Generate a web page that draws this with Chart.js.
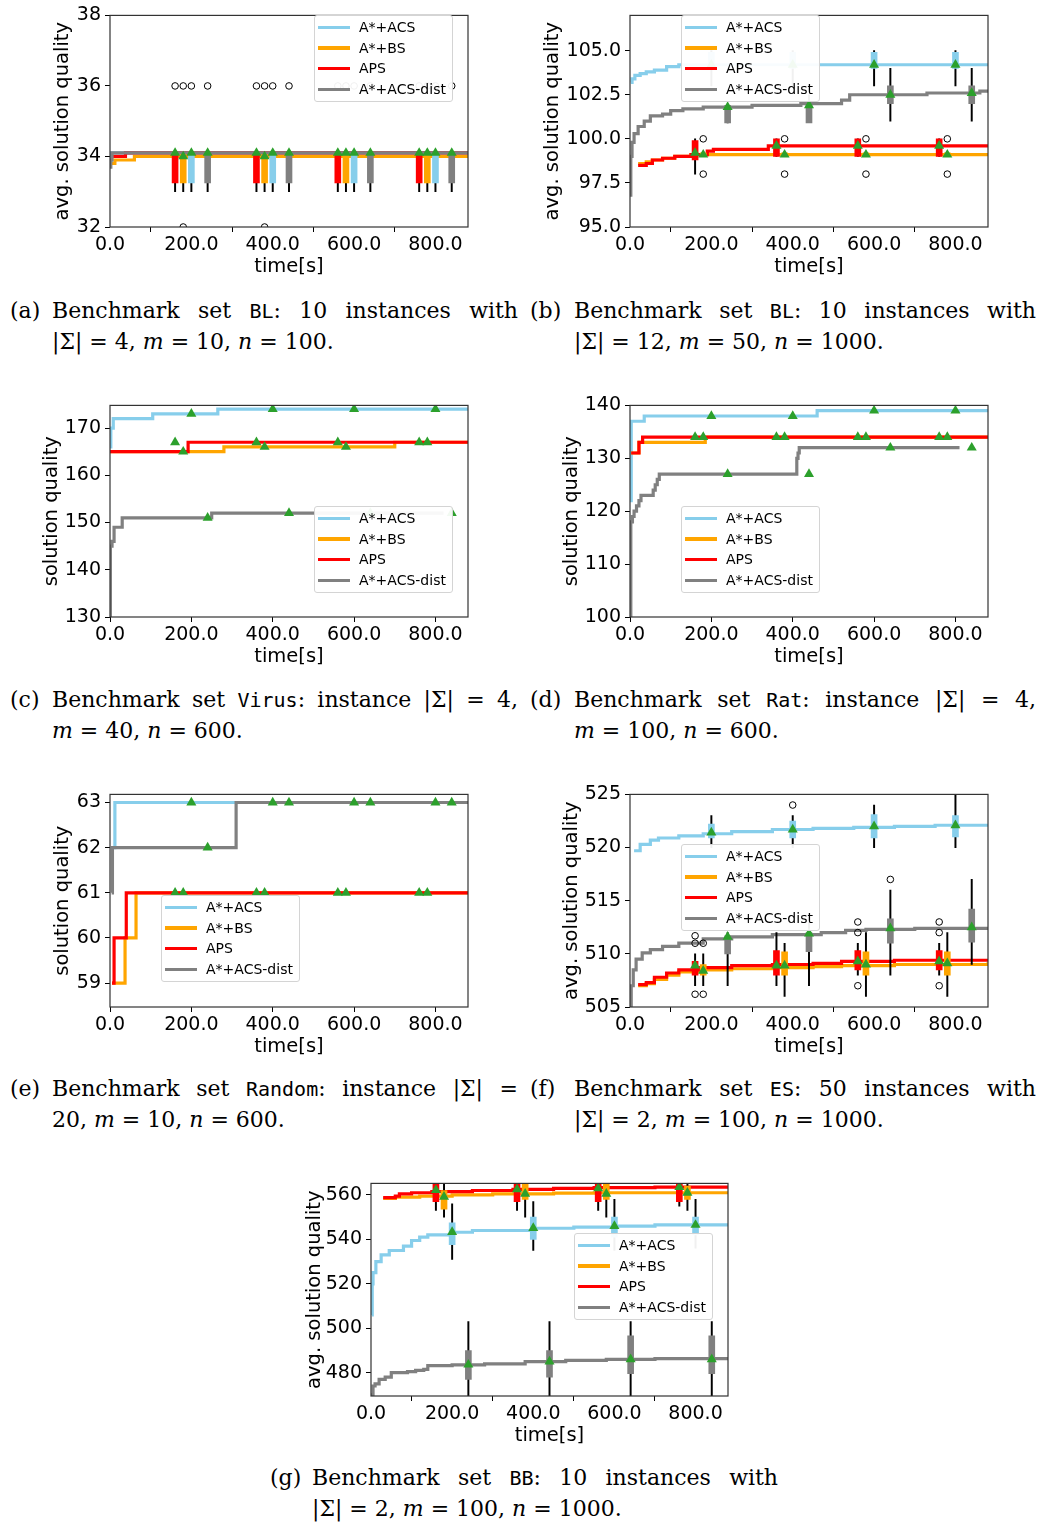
<!DOCTYPE html>
<html>
<head>
<meta charset="utf-8">
<script src="https://cdn.jsdelivr.net/npm/chart.js@4.4.1/dist/chart.umd.min.js"></script>
<style>
body { margin: 0; width: 1043px; height: 1523px; position: relative; background: #fff; overflow: hidden; }
canvas { position: absolute; }
.legend { position: absolute; width: 139px; height: 87px; box-sizing: border-box; background: rgba(255,255,255,0.94);
  border: 1px solid #d4d4d4; border-radius: 3px; font: 14px 'DejaVu Sans'; color: #000; }
.legend .h { position: absolute; left: 3px; width: 32px; height: 3.5px; }
.legend .t { position: absolute; left: 44px; line-height: 16px; }
.cap { position: absolute; font: 22px 'DejaVu Serif'; line-height: 31px; color: #000; }
.cap .l1 { text-align: justify; text-align-last: justify; height: 31px; }
.cap tt { font: 20px 'DejaVu Sans Mono'; }
.lab { position: absolute; font: 22px 'DejaVu Serif'; line-height: 31px; }
</style>
</head>
<body>
<script>
// ---- shared ----
const legendLabels = ['A*+ACS', 'A*+BS', 'APS', 'A*+ACS-dist'];
const xTicks = [0, 200, 400, 600, 800];
const posACS = [200, 400, 600, 800];
const posBS = [180, 380, 580, 780];
const posAPS = [160, 360, 560, 760];
const posDist = [240, 440, 640, 840];

// ---- (a) BL 10 instances ----
const aYTicks = [32, 34, 36, 38];
const aAcsT = [0, 3, 880], aAcsY = [33.8, 34.1, 34.1];
const aBsT = [0, 12, 60, 880], aBsY = [33.8, 33.9, 34.0, 34.0];
const aApsT = [3, 38, 880], aApsY = [34.0, 34.1, 34.1];
const aDistT = [0, 2, 5, 880], aDistY = [33.7, 33.9, 34.1, 34.1];
const aQ1 = [33.25, 33.25, 33.25, 33.25], aQ3 = [34.05, 34.05, 34.05, 34.05];
const aLo = [33.0, 33.0, 33.0, 33.0];
const aAcsMean = [34.1, 34.1, 34.1, 34.1], aBsMean = [34.0, 34.0, 34.1, 34.1];
const aApsMean = [34.1, 34.1, 34.1, 34.1], aDistMean = [34.1, 34.1, 34.1, 34.1];
const aOutX = [160, 180, 200, 240, 360, 380, 400, 440, 560, 580, 600, 640, 760, 780, 800, 840, 180, 380];
const aOutY = [36, 36, 36, 36, 36, 36, 36, 36, 36, 36, 36, 36, 36, 36, 36, 36, 32, 32];

// ---- (b) BL 10 instances ----
const bYTicks = [95, 97.5, 100, 102.5, 105];
const bAcsT = [2, 5, 12, 25, 40, 60, 90, 120, 880];
const bAcsY = [103.2, 103.4, 103.6, 103.7, 103.8, 103.9, 104.1, 104.2, 104.2];
const bBsT = [20, 40, 55, 80, 110, 150, 880];
const bBsY = [98.6, 98.7, 98.8, 98.9, 99.0, 99.1, 99.1];
const bApsT = [20, 40, 55, 80, 110, 150, 190, 205, 340, 880];
const bApsY = [98.5, 98.6, 98.8, 98.9, 99.0, 99.1, 99.3, 99.4, 99.6, 99.6];
const bDistT = [0, 2, 5, 10, 20, 35, 50, 80, 100, 130, 180, 300, 420, 520, 540, 730, 860, 880];
const bDistY = [96.8, 99.0, 99.8, 100.3, 100.7, 101.0, 101.3, 101.4, 101.6, 101.7, 101.8, 101.9, 102.0, 102.2, 102.5, 102.6, 102.7, 102.7];
const bApsQ1 = [98.8, 99.0, 99.0, 99.0], bApsQ3 = [99.9, 100.0, 100.0, 100.0];
const bApsLo = [98.0, 99.0, 99.0, 99.0], bApsHi = [100.0, 100.0, 100.0, 100.0];
const bBsQ1 = [99.0, 99.0, 99.0, 99.0], bBsQ3 = [99.2, 99.2, 99.2, 99.2];
const bAcsQ1 = [104.0, 104.0, 104.0, 104.0], bAcsQ3 = [104.9, 104.9, 104.9, 104.9];
const bAcsLo = [103.0, 103.0, 103.0, 103.0], bAcsHi = [105.0, 105.0, 105.0, 105.0];
const bDistQ1 = [100.9, 100.9, 102.0, 102.0], bDistQ3 = [101.9, 101.9, 103.0, 103.0];
const bDistLo = [100.9, 101.0, 101.0, 101.0], bDistHi = [101.9, 102.5, 104.0, 104.0];
const bAcsMean = [104.2, 104.2, 104.2, 104.2], bBsMean = [99.1, 99.1, 99.1, 99.1];
const bApsMean = [99.2, 99.6, 99.6, 99.6], bDistMean = [101.8, 101.9, 102.5, 102.6];
const bOutX = [180, 180, 380, 380, 580, 580, 780, 780];
const bOutY = [100, 98, 100, 98, 100, 98, 100, 98];

// ---- (c) Virus ----
const cYTicks = [130, 140, 150, 160, 170];
const cAcsT = [0, 2, 8, 105, 265, 880], cAcsY = [166, 170, 172, 173, 174, 174];
const cBsT = [0, 280, 700, 880], cBsY = [165, 166, 167, 167];
const cApsT = [0, 192, 880], cApsY = [165, 167, 167];
const cDistT = [0, 1, 5, 10, 30, 250, 820], cDistY = [130, 145, 146, 149, 151, 152, 152];
const cAcsMean = [173, 174, 174, 174], cBsMean = [165, 166, 166, 167];
const cApsMean = [167, 167, 167, 167], cDistMean = [151, 152, 152, 152];

// ---- (d) Rat ----
const dYTicks = [100, 110, 120, 130, 140];
const dAcsT = [0, 3, 35, 460, 880], dAcsY = [122, 137, 138, 139, 139];
const dBsT = [3, 22, 185, 880], dBsY = [131, 133, 134, 134];
const dApsT = [3, 22, 31, 880], dApsY = [131, 133, 134, 134];
const dDistT = [0, 2, 6, 10, 16, 22, 27, 57, 62, 67, 72, 410, 413, 416, 420, 810];
const dDistY = [100, 118, 119, 120, 121, 122, 123, 124, 125, 126, 127, 130, 131, 132, 132, 132];
const dAcsMean = [138, 138, 139, 139], dBsMean = [134, 134, 134, 134];
const dApsMean = [134, 134, 134, 134], dDistMean = [127, 127, 132, 132];

// ---- (e) Random ----
const eYTicks = [59, 60, 61, 62, 63];
const eAcsT = [5, 12, 880], eAcsY = [62, 63, 63];
const eBsT = [5, 37, 64, 880], eBsY = [59, 60, 61, 61];
const eApsT = [5, 10, 40, 880], eApsY = [59, 60, 61, 61];
const eDistT = [4, 6, 310, 880], eDistY = [61, 62, 63, 63];
const eAcsMean = [63, 63, 63, 63], eBsMean = [61, 61, 61, 61];
const eApsMean = [61, 61, 61, 61], eDistMean = [62, 63, 63, 63];

// ---- (f) ES 50 instances ----
const fYTicks = [505, 510, 515, 520, 525];
const fAcsT = [10, 25, 50, 70, 120, 180, 250, 350, 450, 550, 650, 750, 880];
const fAcsY = [519.7, 520.3, 520.7, 520.9, 521.1, 521.3, 521.5, 521.7, 521.8, 521.9, 522.0, 522.1, 522.2];
const fBsT = [20, 40, 60, 90, 120, 170, 250, 350, 450, 520, 650, 880];
const fBsY = [507.0, 507.2, 507.6, 508.0, 508.3, 508.5, 508.6, 508.7, 508.8, 508.9, 509.0, 509.2];
const fApsT = [20, 40, 60, 90, 120, 170, 250, 350, 450, 520, 650, 880];
const fApsY = [507.1, 507.3, 507.8, 508.2, 508.5, 508.7, 508.9, 509.0, 509.1, 509.3, 509.4, 509.5];
const fDistT = [0, 3, 8, 15, 30, 50, 80, 120, 180, 250, 350, 470, 530, 580, 700, 880];
const fDistY = [505, 507, 508.5, 509.5, 510.1, 510.4, 510.7, 511.0, 511.4, 511.6, 511.8, 512.0, 512.2, 512.3, 512.4, 512.5];
const fApsQ1 = [508.0, 508.0, 508.5, 508.5], fApsQ3 = [509.3, 510.3, 510.3, 510.3];
const fApsLo = [507, 507, 508, 508], fApsHi = [510, 512, 511, 511];
const fBsQ1 = [508.0, 508.0, 508.0, 508.0], fBsQ3 = [509.0, 510.2, 510.2, 510.2];
const fBsLo = [507, 506, 506, 506], fBsHi = [510, 511, 512, 512];
const fAcsQ1 = [520.9, 520.9, 520.9, 521.0], fAcsQ3 = [522.2, 522.5, 523.1, 523.0];
const fAcsLo = [520, 520, 520, 520], fAcsHi = [523, 523, 524, 525];
const fDistQ1 = [510.0, 510.2, 511.0, 511.1], fDistQ3 = [511.7, 512.0, 513.3, 514.2];
const fDistLo = [507, 507, 508, 509], fDistHi = [512, 513, 516, 517];
const fAcsMean = [521.4, 521.7, 522.0, 522.1], fBsMean = [508.4, 508.9, 509.0, 509.1];
const fApsMean = [508.9, 508.9, 509.3, 509.3], fDistMean = [511.6, 511.9, 512.4, 512.5];
const fOutX = [160, 160, 180, 160, 180, 400, 560, 560, 560, 640, 760, 760, 760];
const fOutY = [511.7, 511.0, 511.0, 506.2, 506.2, 524.0, 513.0, 512.0, 507.0, 517.0, 513.0, 512.0, 507.0];

// ---- (g) BB 10 instances ----
const gYTicks = [480, 500, 520, 540, 560];
const gAcsT = [2, 3, 5, 12, 25, 45, 80, 100, 120, 140, 200, 250, 400, 500, 600, 700, 880];
const gAcsY = [506, 520, 525, 530, 533, 535, 537, 539.5, 541, 542, 543.2, 544, 545, 545.5, 546, 546.5, 547];
const gBsT = [30, 60, 120, 200, 300, 450, 550, 880];
const gBsY = [558.5, 559, 559.5, 560, 560.5, 560.8, 561, 561.3];
const gApsT = [30, 60, 70, 100, 150, 250, 350, 450, 550, 700, 880];
const gApsY = [558.8, 559.5, 560.5, 561, 561.5, 562, 562.5, 563, 563.3, 563.5, 563.8];
const gDistT = [0, 5, 10, 20, 35, 50, 90, 110, 130, 140, 200, 280, 380, 480, 580, 700, 880];
const gDistY = [470, 474, 475, 477, 478, 480, 480.5, 481, 481.5, 483.2, 483.5, 484, 485, 485.5, 486, 486.3, 486.5];
const gApsQ1 = [557, 557, 557, 557], gApsQ3 = [566, 566, 566, 566];
const gApsLo = [553, 553, 553, 555], gApsHi = [566, 566, 566, 566];
const gBsQ1 = [553.6, 558, 558, 558], gBsQ3 = [562, 566, 566, 564];
const gBsLo = [550, 550, 550, 553], gBsHi = [566, 566, 566, 566];
const gAcsQ1 = [537.6, 540, 541, 542], gAcsQ3 = [547.4, 550, 550, 550];
const gAcsLo = [531, 535, 535, 536], gAcsHi = [556, 557, 558, 558];
const gDistQ1 = [477, 478, 479.6, 479.6], gDistQ3 = [490, 490, 496.6, 496.6];
const gDistLo = [469, 469, 469, 469], gDistHi = [503, 503, 503, 503];
const gAcsMean = [543.3, 545.1, 546, 546.5], gBsMean = [559.2, 560.5, 560.5, 561];
const gApsMean = [562.2, 562.5, 563, 563.5], gDistMean = [483.6, 485, 486, 486];

const colors = ['#87ceeb', '#ffa500', '#ff0000', '#808080'];
const positions = [posACS, posBS, posAPS, posDist];
const TICK_SIZE = 19, TITLE_SIZE = 19.5;

// frame around the axes, like matplotlib spines
const framePlugin = {
  id: 'frame',
  afterDatasetsDraw(chart) {
    const a = chart.chartArea, ctx = chart.ctx;
    ctx.save();
    ctx.strokeStyle = '#333';
    ctx.lineWidth = 1.2;
    ctx.strokeRect(a.left, a.top, a.right - a.left, a.bottom - a.top);
    ctx.restore();
  }
};

function pts(xs, ys) {
  return xs.map(function(x, i) { return {x: x, y: ys[i]}; });
}

function makePanel(p) {
  var L = p.plot[0], T = p.plot[1], R = p.plot[2], B = p.plot[3];
  var cv = document.createElement('canvas');
  var w = R - L + 122, h = B - T + 68;
  cv.width = w; cv.height = h;
  cv.style.width = w + 'px'; cv.style.height = h + 'px';
  cv.style.left = (L - 110) + 'px'; cv.style.top = (T - 13) + 'px';
  document.body.appendChild(cv);

  var ds = [];
  p.lines.forEach(function(ln, k) {
    ds.push({type: 'line', data: pts(ln[0], ln[1]), borderColor: colors[k], borderWidth: 3.2,
      pointRadius: 0, stepped: true, fill: false, order: 13 - k, clip: 0});
  });
  (p.boxes || []).forEach(function(bx, k) {
    if (!bx) return;
    var q1 = bx[0], q3 = bx[1], lo = bx[2] || bx[0], hi = bx[3] || bx[1];
    ds.push({type: 'bar', data: positions[k].map(function(x, i) { return {x: x, y: [lo[i], hi[i]]}; }),
      backgroundColor: '#000', barThickness: 1.3, maxBarThickness: 1.3, grouped: false, order: 9, clip: 0});
    ds.push({type: 'bar', data: positions[k].map(function(x, i) { return {x: x, y: [q1[i], q3[i]]}; }),
      backgroundColor: colors[k], barThickness: 6, maxBarThickness: 6, grouped: false, order: 8, clip: 0});
  });
  if (p.out) {
    ds.push({type: 'line', showLine: false, data: pts(p.out[0], p.out[1]), pointStyle: 'circle',
      pointRadius: 3.3, pointBackgroundColor: 'rgba(0,0,0,0)', pointBorderColor: '#000',
      pointBorderWidth: 1, order: 2, clip: 0});
  }
  p.means.forEach(function(m, k) {
    ds.push({type: 'line', showLine: false, data: pts(positions[k], m), pointStyle: 'triangle',
      pointRadius: 5.8, pointBackgroundColor: '#2ca02c', pointBorderWidth: 0, order: 1, clip: 0});
  });

  var half = TITLE_SIZE * 1.2 / 2;
  new Chart(cv, {
    type: 'line',
    data: {datasets: ds},
    options: {
      responsive: false, animation: false, maintainAspectRatio: false,
      layout: {padding: {left: 0, top: 13, right: 12, bottom: 0}},
      plugins: {legend: {display: false}, tooltip: {enabled: false}},
      scales: {
        x: {
          type: 'linear', min: 0, max: 880, offset: false,
          afterBuildTicks: function(s) { s.ticks = xTicks.map(function(v) { return {value: v}; }); },
          afterFit: function(s) { s.height = 55; },
          ticks: {callback: function(v) { return v.toFixed(1); }, font: {size: TICK_SIZE}, color: '#000',
            maxRotation: 0, autoSkip: false, padding: 2},
          grid: {drawOnChartArea: false, drawTicks: true, tickLength: 5, color: '#000'},
          border: {display: false},
          title: {display: true, text: 'time[s]', font: {size: TITLE_SIZE}, color: '#000',
            padding: {top: 0, bottom: 15.5 - half}}
        },
        y: {
          type: 'linear', min: p.ymin, max: p.ymax,
          afterBuildTicks: function(s) { s.ticks = p.yTicks.map(function(v) { return {value: v}; }); },
          afterFit: function(s) { s.width = 110; },
          ticks: {callback: function(v) { return v.toFixed(p.dec); }, font: {size: TICK_SIZE}, color: '#000', padding: 4},
          grid: {drawOnChartArea: false, drawTicks: true, tickLength: 5, color: '#000'},
          border: {display: false},
          title: {display: true, text: p.ytitle, font: {size: TITLE_SIZE}, color: '#000',
            padding: {top: p.titleX - L + 110 - half, bottom: 0}}
        }
      }
    },
    plugins: [framePlugin]
  });

  // matplotlib-style legend inside the axes
  var lg = document.createElement('div');
  lg.className = 'legend';
  lg.style.left = p.legend[0] + 'px';
  lg.style.top = p.legend[1] + 'px';
  legendLabels.forEach(function(txt, k) {
    var cy = 11.5 + 20.7 * k;
    var hd = document.createElement('div');
    hd.className = 'h';
    hd.style.top = (cy - 2) + 'px';
    hd.style.background = colors[k];
    var tx = document.createElement('div');
    tx.className = 't';
    tx.style.top = (cy - 8.5) + 'px';
    tx.textContent = txt;
    lg.appendChild(hd); lg.appendChild(tx);
  });
  document.body.appendChild(lg);
}

const panels = [
  {plot: [110, 13, 468, 227], ymin: 32, ymax: 38, yTicks: aYTicks, dec: 0, ytitle: 'avg. solution quality',
   titleX: 63, legend: [314, 15],
   lines: [[aAcsT, aAcsY], [aBsT, aBsY], [aApsT, aApsY], [aDistT, aDistY]],
   boxes: [[aQ1, aQ3, aLo, null], [aQ1, aQ3, aLo, null], [aQ1, aQ3, aLo, null], [aQ1, aQ3, aLo, null]],
   means: [aAcsMean, aBsMean, aApsMean, aDistMean], out: [aOutX, aOutY]},
  {plot: [630, 13, 988, 227], ymin: 95, ymax: 107, yTicks: bYTicks, dec: 1, ytitle: 'avg. solution quality',
   titleX: 553, legend: [681, 15],
   lines: [[bAcsT, bAcsY], [bBsT, bBsY], [bApsT, bApsY], [bDistT, bDistY]],
   boxes: [[bAcsQ1, bAcsQ3, bAcsLo, bAcsHi], [bBsQ1, bBsQ3, null, null], [bApsQ1, bApsQ3, bApsLo, bApsHi], [bDistQ1, bDistQ3, bDistLo, bDistHi]],
   means: [bAcsMean, bBsMean, bApsMean, bDistMean], out: [bOutX, bOutY]},
  {plot: [110, 403, 468, 617], ymin: 130, ymax: 174.8, yTicks: cYTicks, dec: 0, ytitle: 'solution quality',
   titleX: 52, legend: [314, 506],
   lines: [[cAcsT, cAcsY], [cBsT, cBsY], [cApsT, cApsY], [cDistT, cDistY]],
   means: [cAcsMean, cBsMean, cApsMean, cDistMean]},
  {plot: [630, 403, 988, 617], ymin: 100, ymax: 140, yTicks: dYTicks, dec: 0, ytitle: 'solution quality',
   titleX: 572, legend: [681, 506],
   lines: [[dAcsT, dAcsY], [dBsT, dBsY], [dApsT, dApsY], [dDistT, dDistY]],
   means: [dAcsMean, dBsMean, dApsMean, dDistMean]},
  {plot: [110, 792, 468, 1007], ymin: 58.47, ymax: 63.18, yTicks: eYTicks, dec: 0, ytitle: 'solution quality',
   titleX: 63, legend: [161, 895],
   lines: [[eAcsT, eAcsY], [eBsT, eBsY], [eApsT, eApsY], [eDistT, eDistY]],
   means: [eAcsMean, eBsMean, eApsMean, eDistMean]},
  {plot: [630, 792, 988, 1007], ymin: 505, ymax: 525, yTicks: fYTicks, dec: 0, ytitle: 'avg. solution quality',
   titleX: 572, legend: [681, 844],
   lines: [[fAcsT, fAcsY], [fBsT, fBsY], [fApsT, fApsY], [fDistT, fDistY]],
   boxes: [[fAcsQ1, fAcsQ3, fAcsLo, fAcsHi], [fBsQ1, fBsQ3, fBsLo, fBsHi], [fApsQ1, fApsQ3, fApsLo, fApsHi], [fDistQ1, fDistQ3, fDistLo, fDistHi]],
   means: [fAcsMean, fBsMean, fApsMean, fDistMean], out: [fOutX, fOutY]},
  {plot: [371, 1181, 728, 1396], ymin: 469.5, ymax: 565.2, yTicks: gYTicks, dec: 0, ytitle: 'avg. solution quality',
   titleX: 315, legend: [574, 1233],
   lines: [[gAcsT, gAcsY], [gBsT, gBsY], [gApsT, gApsY], [gDistT, gDistY]],
   boxes: [[gAcsQ1, gAcsQ3, gAcsLo, gAcsHi], [gBsQ1, gBsQ3, gBsLo, gBsHi], [gApsQ1, gApsQ3, gApsLo, gApsHi], [gDistQ1, gDistQ3, gDistLo, gDistHi]],
   means: [gAcsMean, gBsMean, gApsMean, gDistMean]}
];

Chart.defaults.font.family = "'DejaVu Sans', sans-serif";
panels.forEach(makePanel);
</script>

<!-- captions -->
<div class="lab" style="left:10px;top:295px">(a)</div>
<div class="cap" style="left:52px;top:295px;width:466px">
  <div class="l1">Benchmark set <tt>BL</tt>: 10 instances with</div>
  <div>|Σ| = 4, <i>m</i> = 10, <i>n</i> = 100.</div>
</div>
<div class="lab" style="left:530px;top:295px">(b)</div>
<div class="cap" style="left:574px;top:295px;width:462px">
  <div class="l1">Benchmark set <tt>BL</tt>: 10 instances with</div>
  <div>|Σ| = 12, <i>m</i> = 50, <i>n</i> = 1000.</div>
</div>
<div class="lab" style="left:10px;top:684px">(c)</div>
<div class="cap" style="left:52px;top:684px;width:466px">
  <div class="l1">Benchmark set <tt>Virus</tt>: instance |Σ| = 4,</div>
  <div><i>m</i> = 40, <i>n</i> = 600.</div>
</div>
<div class="lab" style="left:530px;top:684px">(d)</div>
<div class="cap" style="left:574px;top:684px;width:462px">
  <div class="l1">Benchmark set <tt>Rat</tt>: instance |Σ| = 4,</div>
  <div><i>m</i> = 100, <i>n</i> = 600.</div>
</div>
<div class="lab" style="left:10px;top:1073px">(e)</div>
<div class="cap" style="left:52px;top:1073px;width:466px">
  <div class="l1">Benchmark set <tt>Random</tt>: instance |Σ| =</div>
  <div>20, <i>m</i> = 10, <i>n</i> = 600.</div>
</div>
<div class="lab" style="left:530px;top:1073px">(f)</div>
<div class="cap" style="left:574px;top:1073px;width:462px">
  <div class="l1">Benchmark set <tt>ES</tt>: 50 instances with</div>
  <div>|Σ| = 2, <i>m</i> = 100, <i>n</i> = 1000.</div>
</div>
<div class="lab" style="left:270px;top:1462px">(g)</div>
<div class="cap" style="left:312px;top:1462px;width:466px">
  <div class="l1">Benchmark set <tt>BB</tt>: 10 instances with</div>
  <div>|Σ| = 2, <i>m</i> = 100, <i>n</i> = 1000.</div>
</div>
</body>
</html>
